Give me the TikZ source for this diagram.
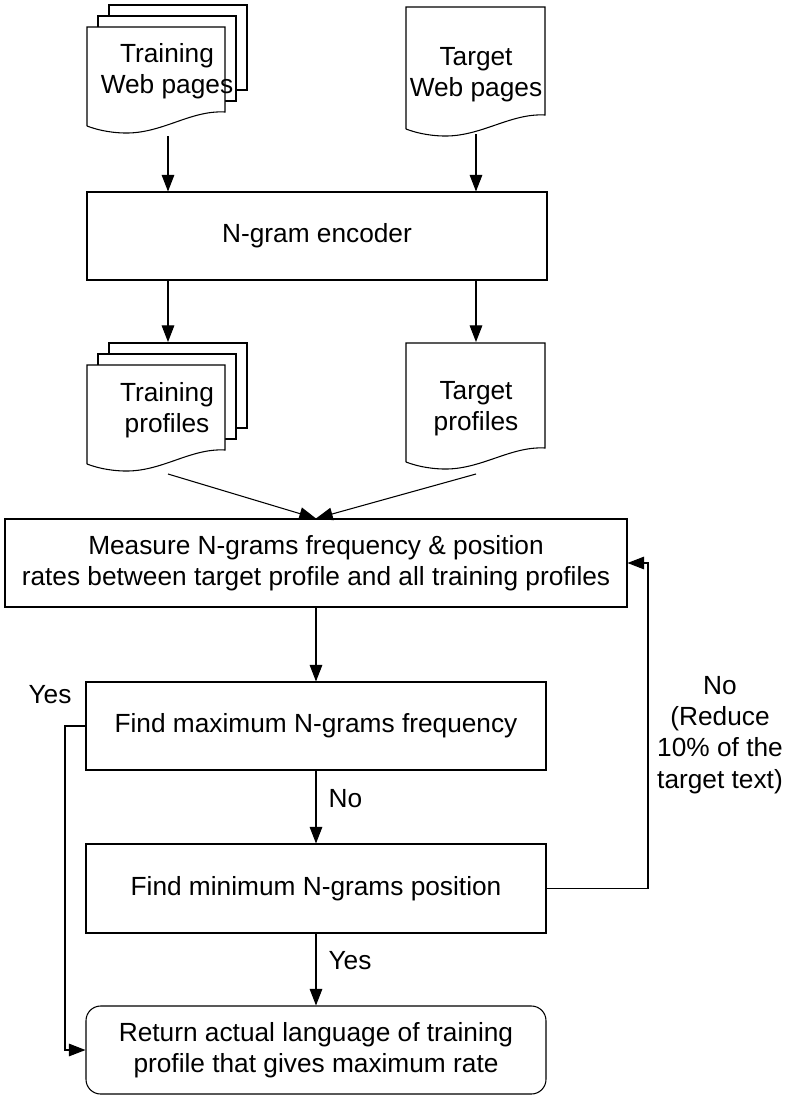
\documentclass[tikz,border=0pt]{standalone}
\usepackage{fontspec}
\setmainfont{Liberation Sans}
\usetikzlibrary{arrows.meta}
\tikzset{
  ln/.style={line width=0.8pt, draw=black},
  arr/.style={ln, -{Triangle[length=12.5pt,width=9.5pt]}},
  box/.style={ln, rectangle, fill=white, inner sep=0pt, align=center},
  txt/.style={inner sep=0pt, align=center, font=\fontsize{19.7}{23.5}\selectfont},
  docst/.style={ln, fill=white},
}
% document shape: #1=x1, #2=top, #3=x2, #4=right bottom y
\newcommand\mydocshape[4]{%
  \draw[docst] (#1,#4+14) -- (#1,#2) -- (#3,#2) -- (#3,#4)
    .. controls (#3-35,#4-2) and (#1+75,#4+22) .. (#1+37,#4+21)
    .. controls (#1+20,#4+20.5) and (#1+8,#4+17) .. (#1,#4+14);}
\begin{document}
\begin{tikzpicture}[x=0.75pt,y=-0.75pt, font=\fontsize{19.7}{23.5}\selectfont]
\useasboundingbox (0,0) rectangle (788,1097);

% ---- Training Web pages (stack)
\draw[docst] (109,5) rectangle (247,90);
\draw[docst] (98,16) rectangle (236,101);
\mydocshape{87}{27}{225}{112}
\node[txt] (twp) at (167,71) {Training\\Web pages};
\coordinate (twpb) at (168,136);

% ---- Target Web pages
\mydocshape{406}{7}{545}{115}
\node[txt] (tgwp) at (476,75) {Target\\Web pages};
\coordinate (tgwpb) at (476,134);

% ---- N-gram encoder
\node[box, minimum width=345pt, minimum height=66pt] (enc) at (317,236) {N-gram encoder};

% ---- Training profiles (stack)
\draw[docst] (109,343) rectangle (247,428);
\draw[docst] (98,354) rectangle (236,439);
\mydocshape{87}{365}{225}{450}
\node[txt] (tp) at (167,410) {Training\\profiles};
\coordinate (tpb) at (168,474);

% ---- Target profiles
\mydocshape{406}{343}{545}{448}
\node[txt] (tgp) at (476,409) {Target\\profiles};
\coordinate (tgpb) at (476,474);

% ---- process boxes
\node[box, minimum width=466.5pt, minimum height=66pt] (meas) at (316,563)
  {Measure N-grams frequency \& position\\rates between target profile and all training profiles};
\node[box, minimum width=345pt, minimum height=66pt] (fmax) at (316,726) {Find maximum N-grams frequency};
\node[box, minimum width=345pt, minimum height=66.75pt] (fmin) at (316,888.5) {Find minimum N-grams position};
\node[box, rounded corners=11pt, minimum width=345pt, minimum height=66pt] (ret) at (316,1050)
  {Return actual language of training\\profile that gives maximum rate};

% ---- connectors
\draw[arr] (twpb) -- (twpb |- enc.north);
\draw[arr] (tgwpb) -- (tgwpb |- enc.north);
\draw[arr] (twpb |- enc.south) -- (twpb |- 0,342);
\draw[arr] (tgwpb |- enc.south) -- (tgwpb |- 0,342);
\coordinate (mtop) at (meas.north);
\draw[arr] (tpb) -- (mtop);
\draw[arr] (tgpb) -- (mtop);
\draw[arr] (meas.south) -- (fmax.north);
\draw[arr] (fmax.south) -- node[txt, right=9pt, pos=0.38] (nolab) {No} (fmin.north);
\draw[arr] (fmin.south) -- node[txt, right=9pt, pos=0.38] (yeslab) {Yes} (ret.north);
\coordinate (rc) at (648,888.5);
\draw[arr] (fmin.east) -- (rc) |- (meas.east);
\coordinate (lc) at (65,726);
\draw[arr] (fmax.west) -- (lc) |- (ret.west);

% ---- labels
\node[txt] (yes2) at (50,695) {Yes};
\node[txt, text depth=0pt] (nored) at (720,732) {No\\(Reduce\\10\% of the\\target text)};
\end{tikzpicture}
\end{document}
